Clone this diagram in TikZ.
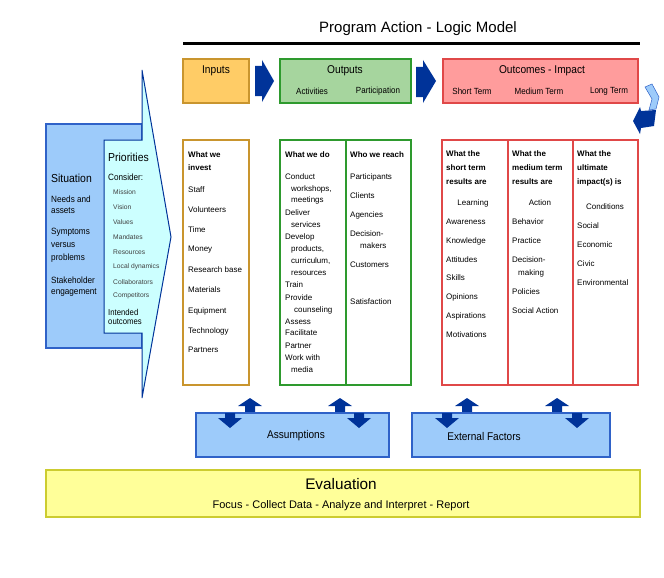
\documentclass[tikz,border=0pt]{standalone}
\usepackage{fontspec}
\setmainfont{Liberation Sans}
\newfontfamily\condfont[FakeStretch=0.9]{Liberation Sans}
\definecolor{inpfill}{HTML}{FFCC66}
\definecolor{inpdraw}{HTML}{C9952E}
\definecolor{outfill}{HTML}{A6D59E}
\definecolor{outdraw}{HTML}{2E9A2E}
\definecolor{ocfill}{HTML}{FF9C9C}
\definecolor{ocdraw}{HTML}{E04848}
\definecolor{sitfill}{HTML}{9DCBFA}
\definecolor{sitdraw}{HTML}{2F62C8}
\definecolor{prifill}{HTML}{CCFFFF}
\definecolor{arrblue}{HTML}{003399}
\definecolor{evfill}{HTML}{FFFF99}
\definecolor{evdraw}{HTML}{CCCC30}
\begin{document}
\begin{tikzpicture}[x=1pt,y=-1pt,
  txt/.style={inner sep=0pt, anchor=west, font=\fontsize{8}{9}\selectfont},
  htxt/.style={txt, font=\fontsize{8}{9}\selectfont\bfseries},
  ctxt/.style={inner sep=0pt, font=\fontsize{8}{9}\selectfont},
  lbl/.style={inner sep=0pt, font=\condfont\fontsize{11.3}{13}\selectfont},
  sublbl/.style={inner sep=0pt, font=\condfont\fontsize{8.9}{10}\selectfont},
  topbox/.style={rectangle, line width=1.5pt, minimum height=44pt, inner sep=0pt},
  detbox/.style={rectangle, line width=1.3pt, fill=white, minimum height=245pt, inner sep=0pt},
  blockarrow/.style={fill=arrblue},
  bluebox/.style={rectangle, fill=sitfill, draw=sitdraw, line width=1.2pt, minimum height=44pt, inner sep=0pt},
  sittxt/.style={inner sep=0pt, anchor=west, font=\condfont\fontsize{9.1}{11}\selectfont},
  pritxt/.style={inner sep=0pt, anchor=west, font=\fontsize{6.7}{8}\selectfont, text=black!75},
  uparr/.pic={\fill[arrblue] (0,0) -- (12,8) -- (5,8) -- (5,15) -- (-5,15) -- (-5,8) -- (-12,8) -- cycle;},
  dnarr/.pic={\fill[arrblue] (0,0) -- (12,-10) -- (5,-10) -- (5,-15) -- (-5,-15) -- (-5,-10) -- (-12,-10) -- cycle;}
]
\useasboundingbox (0,0) rectangle (664,578);

% title
\node[inner sep=0pt, font=\fontsize{15}{17}\selectfont] (title) at (418,29) {Program Action - Logic Model};
\draw[line width=3pt] (183,44) -- (640,44);

% top boxes
\node[topbox, fill=inpfill, draw=inpdraw, minimum width=66pt] (inputs) at (216,81) {};
\node[lbl] (inputslbl) at (216,71) {Inputs};
\node[topbox, fill=outfill, draw=outdraw, minimum width=131pt] (outputs) at (345.5,81) {};
\node[lbl] (outputslbl) at (345,71) {Outputs};
\node[sublbl] (activ) at (312,91.5) {Activities};
\node[sublbl] (partic) at (378,91.5) {Participation};
\node[topbox, fill=ocfill, draw=ocdraw, minimum width=195pt] (outcomes) at (540.5,81) {};
\node[lbl] (outcomeslbl) at (542,71) {Outcomes - Impact};
\node[sublbl] (shortt) at (472,91.5) {Short Term};
\node[sublbl] (medt) at (539,91.5) {Medium Term};
\node[sublbl] (longt) at (609,91.5) {Long Term};

% block arrows between top boxes
\fill[blockarrow] (255,66) -- (262,66) -- (262,60) -- (274,81) -- (262,102) -- (262,96) -- (255,96) -- cycle;
\fill[blockarrow] (416,67) -- (423,67) -- (423,60) -- (436,81) -- (423,103) -- (423,97) -- (416,97) -- cycle;

% right curved arrow
\filldraw[fill=sitfill, draw=sitdraw, line width=0.5pt] (645,87) -- (652,84) -- (659,97) -- (656,109) -- (649,110) -- (652,99) -- cycle;
\fill[arrblue] (633,121) -- (640,107) -- (641,111) -- (656,110) -- (654,126) -- (641,128) -- (640,134) -- cycle;

% situation and priorities
\filldraw[fill=sitfill, draw=sitdraw, line width=1.5pt] (46,124) rectangle (142,348);
\filldraw[fill=prifill, draw=arrblue, line width=1pt] (104,140) -- (142,140) -- (142,70) -- (171,237) -- (142,398) -- (142,333) -- (104,333) -- cycle;

\node[sittxt, font=\condfont\fontsize{11.6}{13}\selectfont] (situation) at (51,178) {Situation};
\node[sittxt] (needs1) at (51,199) {Needs and};
\node[sittxt] (needs2) at (51,211) {assets};
\node[sittxt] (symp1) at (51,232) {Symptoms};
\node[sittxt] (symp2) at (51,245) {versus};
\node[sittxt] (symp3) at (51,258) {problems};
\node[sittxt] (stake1) at (51,280) {Stakeholder};
\node[sittxt] (stake2) at (51,293) {engagement};

\node[sittxt, font=\condfont\fontsize{11.6}{13}\selectfont] (priorities) at (108,157) {Priorities};
\node[sittxt] (consider) at (108,177) {Consider:};
\foreach \t/\yy [count=\i] in {Mission/192, Vision/207, Values/222, Mandates/237, Resources/252, Local dynamics/267, Collaborators/282, Competitors/296}
  \node[pritxt] (pri\i) at (113,\yy) {\t};
\node[sittxt, font=\condfont\fontsize{8.6}{10}\selectfont] (intended1) at (108,312) {Intended};
\node[sittxt, font=\condfont\fontsize{8.6}{10}\selectfont] (intended2) at (108,322) {outcomes};

% detail boxes
\node[detbox, draw=inpdraw, minimum width=66pt] (investbox) at (216,262.5) {};
\node[detbox, draw=outdraw, minimum width=131pt] (doreachbox) at (345.5,262.5) {};
\draw[outdraw, line width=1.3pt] (346,140) -- (346,385);
\node[detbox, draw=ocdraw, minimum width=196pt] (resultbox) at (540,262.5) {};
\draw[ocdraw, line width=1.3pt] (508,140) -- (508,385);
\draw[ocdraw, line width=1.3pt] (573,140) -- (573,385);

% inputs column
\node[htxt] (inv1) at (188,155) {What we};
\node[htxt] (inv2) at (188,168) {invest};
\foreach \t/\yy [count=\i] in {Staff/190, Volunteers/210, Time/230, Money/250, Research base/270, Materials/290, Equipment/311, Technology/331, Partners/350}
  \node[txt] (inp\i) at (188,\yy) {\t};

% activities column
\node[htxt] (do1) at (285,155) {What we do};
\foreach \xx/\t/\yy [count=\i] in {285/Conduct/177, {291/workshops,/189}, 291/meetings/200.5, 285/Deliver/212.5, 291/services/225, 285/Develop/237, {291/products,/249}, {291/curriculum,/261}, 291/resources/273, 285/Train/285, 285/Provide/297.5, 294/counseling/310, 285/Assess/321.5, 285/Facilitate/333, 285/Partner/345.5, 285/Work with/358, 291/media/370}
  \node[txt] (act\i) at (\xx,\yy) {\t};

% participation column
\node[htxt] (reach1) at (350,155) {Who we reach};
\foreach \xx/\t/\yy [count=\i] in {350/Participants/177, 350/Clients/196, 350/Agencies/215, 350/Decision-/234, 360/makers/246, 350/Customers/265, 350/Satisfaction/302}
  \node[txt] (par\i) at (\xx,\yy) {\t};

% short term column
\node[htxt] (st1) at (446,154) {What the};
\node[htxt] (st2) at (446,168) {short term};
\node[htxt] (st3) at (446,182) {results are};
\node[ctxt] (learning) at (473,203) {Learning};
\foreach \t/\yy [count=\i] in {Awareness/222, Knowledge/241, Attitudes/260, Skills/278, Opinions/297, Aspirations/316, Motivations/335}
  \node[txt] (stl\i) at (446,\yy) {\t};

% medium term column
\node[htxt] (mt1) at (512,154) {What the};
\node[htxt] (mt2) at (512,168) {medium term};
\node[htxt] (mt3) at (512,182) {results are};
\node[ctxt] (action) at (540,203) {Action};
\foreach \xx/\t/\yy [count=\i] in {512/Behavior/222, 512/Practice/241, 512/Decision-/260, 518/making/273, 512/Policies/292, 512/Social Action/311}
  \node[txt] (mtl\i) at (\xx,\yy) {\t};

% long term column
\node[htxt] (lt1) at (577,154) {What the};
\node[htxt] (lt2) at (577,168) {ultimate};
\node[htxt] (lt3) at (577,182) {impact(s) is};
\node[ctxt] (conditions) at (605,207) {Conditions};
\foreach \t/\yy [count=\i] in {Social/226, Economic/245, Civic/264, Environmental/283}
  \node[txt] (ltl\i) at (577,\yy) {\t};

% assumptions / external factors
\pic at (250,398) {uparr};
\pic at (340,398) {uparr};
\pic at (467,398) {uparr};
\pic at (557,398) {uparr};
\node[bluebox, minimum width=193pt] (assump) at (292.5,435) {};
\node[bluebox, minimum width=198pt] (extern) at (511,435) {};
\node[lbl, font=\condfont\fontsize{11.2}{13}\selectfont] (assumplbl) at (296,436) {Assumptions};
\node[lbl, font=\condfont\fontsize{11.2}{13}\selectfont] (externlbl) at (484,436) {External Factors};
\pic at (230,428) {dnarr};
\pic at (359,428) {dnarr};
\pic at (447,428) {dnarr};
\pic at (577,428) {dnarr};

% evaluation
\node[rectangle, fill=evfill, draw=evdraw, line width=1.5pt, minimum width=594pt, minimum height=47pt, inner sep=0pt] (evalbox) at (343,493.5) {};
\node[inner sep=0pt, font=\fontsize{15.3}{17}\selectfont] (evaltitle) at (341,484) {Evaluation};
\node[inner sep=0pt, font=\fontsize{11}{13}\selectfont] (evalsub) at (341,506) {Focus - Collect Data - Analyze and Interpret - Report};
\end{tikzpicture}
\end{document}
